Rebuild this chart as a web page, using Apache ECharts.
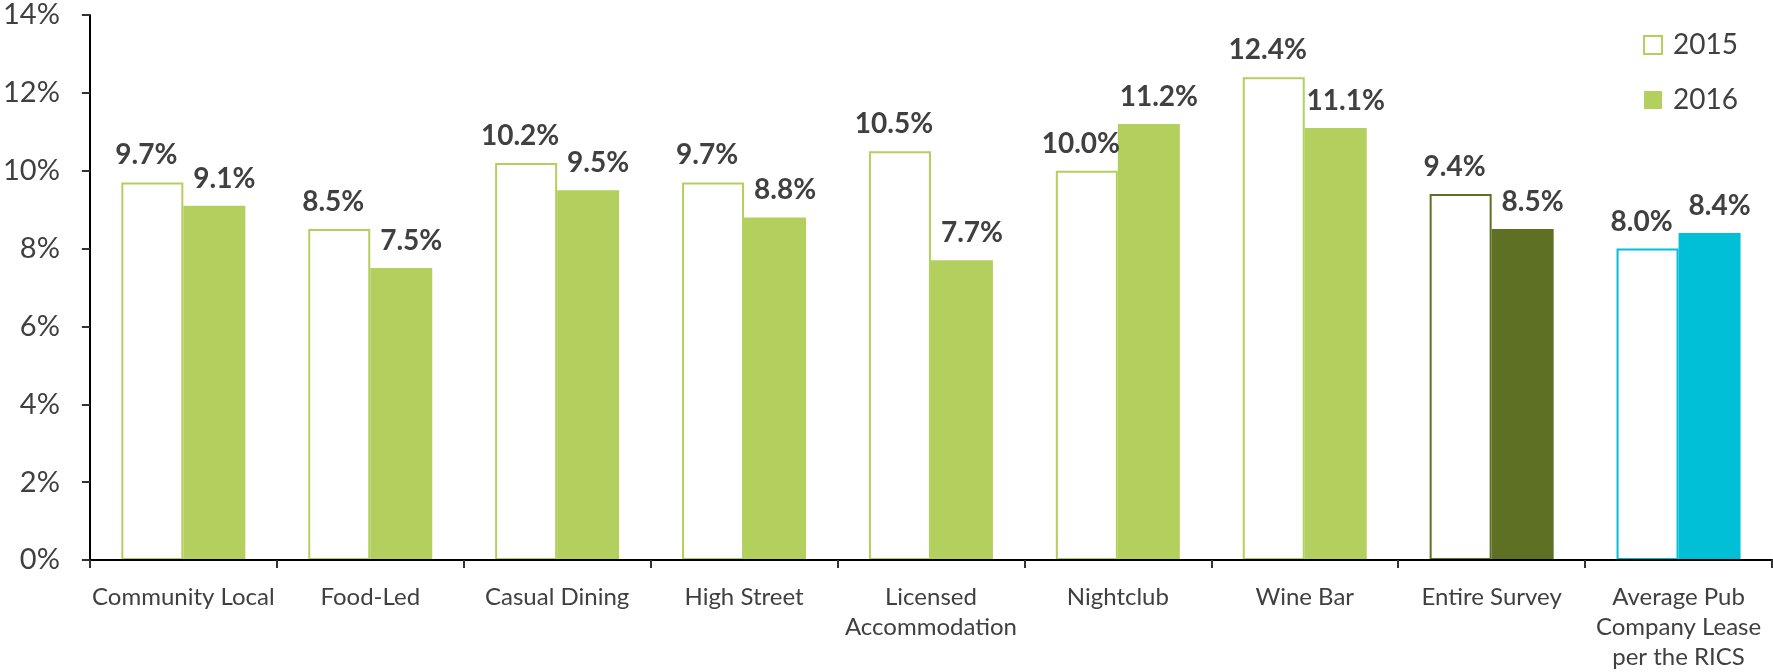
<!DOCTYPE html>
<html>
<head>
<meta charset="utf-8">
<title>Pub rent yields 2015 vs 2016</title>
<script src="https://cdn.jsdelivr.net/npm/echarts@6/dist/echarts.min.js"></script>
<style>
  html, body { margin: 0; padding: 0; background: #fff; }
  #chart { width: 1773px; height: 672px; }
</style>
</head>
<body>
<div id="chart"></div>
<script>
// categories and values
const categories = [
  'Community Local',
  'Food-Led',
  'Casual Dining',
  'High Street',
  'Licensed\nAccommodation',
  'Nightclub',
  'Wine Bar',
  'Entire Survey',
  'Average Pub\nCompany Lease\nper the RICS'
];
const values2015 = [9.7, 8.5, 10.2, 9.7, 10.5, 10.0, 12.4, 9.4, 8.0];
const values2016 = [9.1, 7.5, 9.5, 8.8, 7.7, 11.2, 11.1, 8.5, 8.4];
const yTicks = { min: 0, max: 14, interval: 2 };

// colours
const GREEN = '#b3cf5e';
const OLIVE = '#5d7023';
const CYAN = '#00bfd6';
const TEXT = '#404040';
const FONT = 'Lato, "Open Sans", sans-serif';

// override colours per category index (Entire Survey, RICS)
const barColorAt = (i) => (i === 7 ? OLIVE : i === 8 ? CYAN : GREEN);

const labelStyle = {
  show: true,
  position: 'top',
  distance: 13,
  fontFamily: FONT,
  fontSize: 28,
  fontWeight: 'bold',
  color: TEXT,
  formatter: (p) => p.value.toFixed(1) + '%'
};

const chart = echarts.init(document.getElementById('chart'));

chart.setOption({
  animation: false,
  textStyle: { fontFamily: FONT },
  grid: {
    left: 89,
    right: 1,
    top: 15,
    bottom: 109,
    containLabel: false
  },
  legend: {
    orient: 'vertical',
    right: 30,
    top: 25,
    icon: 'rect',
    itemWidth: 18,
    itemHeight: 18,
    itemGap: 25,
    textStyle: {
      fontFamily: FONT,
      fontSize: 28,
      color: TEXT,
      lineHeight: 30,
      padding: [0, 0, 0, 6]
    },
    data: ['2015', '2016']
  },
  xAxis: {
    type: 'category',
    data: categories,
    z: 10,
    axisLine: { lineStyle: { color: '#000', width: 2 } },
    axisTick: { show: true, length: 8, lineStyle: { color: '#333', width: 2 } },
    axisLabel: {
      interval: 0,
      margin: 22,
      fontFamily: FONT,
      fontSize: 24,
      lineHeight: 30,
      color: TEXT
    }
  },
  yAxis: {
    type: 'value',
    min: yTicks.min,
    max: yTicks.max,
    interval: yTicks.interval,
    z: 10,
    splitLine: { show: false },
    axisLine: { show: true, lineStyle: { color: '#000', width: 2 } },
    axisTick: { show: true, length: 8, lineStyle: { color: '#333', width: 2 } },
    axisLabel: {
      margin: 30,
      fontFamily: FONT,
      fontSize: 29,
      color: TEXT,
      formatter: '{value}%'
    }
  },
  series: [
    {
      name: '2015',
      type: 'bar',
      barWidth: 62,
      barGap: '0%',
      itemStyle: { color: '#fff', borderColor: GREEN, borderWidth: 2 },
      label: Object.assign({}, labelStyle, { offset: [-6, 0] }),
      data: values2015.map((v, i) => ({
        value: v,
        itemStyle: { color: '#fff', borderColor: barColorAt(i), borderWidth: 2 }
      }))
    },
    {
      name: '2016',
      type: 'bar',
      barWidth: 62,
      barGap: '0%',
      itemStyle: { color: GREEN },
      label: Object.assign({}, labelStyle, { offset: [10, 0] }),
      data: values2016.map((v, i) => ({
        value: v,
        itemStyle: { color: barColorAt(i) }
      }))
    }
  ]
});

window.addEventListener('resize', () => chart.resize());
</script>
</body>
</html>
